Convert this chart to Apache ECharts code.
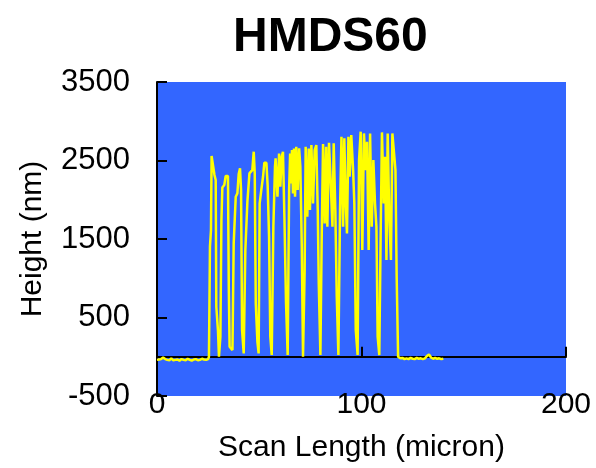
<!DOCTYPE html>
<html>
<head>
<meta charset="utf-8">
<script src="https://cdn.jsdelivr.net/npm/echarts@6/dist/echarts.min.js"></script>
<style>
html,body{margin:0;padding:0;background:#fff;}
#c{width:596px;height:468px;}
</style>
</head>
<body>
<div id="c"></div>
<script>
const chartTitle = 'HMDS60';
const xAxisName = 'Scan Length (micron)';
const yAxisName = 'Height (nm)';
const xTicks = [0, 100, 200];
const yTicks = [-500, 500, 1500, 2500, 3500];

const scanX = [
  0,1,2,3,4,5,6,7,8,9,10,11,12,13,14,15,16,17,18,19,20,21,22,23,24,25,
  25.4,25.9,26.4,26.7,27.6,28.1,28.7,29.0,29.8,30.3,
  31.0,31.5,31.96,32.9,33.6,34.7,35.1,35.5,36.9,
  37.5,38.5,39.3,39.95,40.6,41.1,41.6,42.4,
  43.2,44.2,45.2,46.6,47.3,47.8,48.3,49.1,49.7,
  50.2,51.0,51.85,52.5,53.5,54.1,54.8,55.4,56.1,
  56.9,57.7,58.0,58.9,59.7,60.3,60.98,61.6,62.3,63.1,63.9,
  64.6,65.1,65.5,66.0,66.5,67.0,67.5,68.1,68.8,69.5,70.1,70.8,71.4,
  72.2,72.7,73.5,74.2,74.8,75.5,76.3,77.1,77.9,78.6,79.1,79.9,
  80.5,81.2,82.0,82.7,83.3,84.1,84.9,85.8,86.4,87.2,87.9,88.7,
  89.5,90.2,91.0,91.6,92.3,92.9,93.6,94.2,95.0,95.9,96.5,97.2,98.1,
  98.8,99.6,100.4,101.2,102.1,102.7,103.5,104.2,105.0,105.8,106.6,107.3,107.9,108.7,
  109.4,110.0,110.9,111.5,112.2,112.8,113.6,114.4,115.1,115.9,116.6,117.2,117.9,
  118.5,119,120,121,122,123,124,125,126,127,128,129,130,131,132,133,134,135,136,137,138,139,140
];
const heightY = [
  -40,-35,-30,-10,-30,-40,-45,-20,-45,-40,-35,-50,-30,-40,-45,-25,-40,-50,-35,-30,-45,-40,-25,-35,-40,-30,
  0,1402,1614,2557,2540,2315,2251,637,340,0,
  255,1741,2157,2187,2302,2302,892,128,85,
  1444,2039,2081,2327,2400,2124,340,43,
  1359,1975,2336,2378,2612,2336,680,191,43,
  1954,2124,2293,2472,2472,2187,1529,255,22,
  1656,2421,2527,2039,2590,2166,2548,2612,1784,680,22,
  2124,2590,2208,2633,2081,2654,2039,2675,2124,2654,2421,1402,0,
  1104,2675,1784,2654,1869,2697,1954,2633,2697,1869,935,22,
  1444,2709,1699,2675,1656,2726,2251,1656,2718,1869,765,22,
  1869,2803,1656,2782,1954,1571,2803,2293,2824,2378,1954,340,22,
  2506,2867,1359,2845,2378,2739,1359,2845,1656,2506,1954,1656,255,22,
  1614,2858,1954,2548,1232,2845,1741,1232,2845,2845,2378,1019,0,
  -10,-20,-15,-30,-20,-30,-15,-25,-30,-15,-25,-20,-30,-20,10,30,-10,-25,-15,-25,-20,-30,-25
];

const points = scanX.map((x, i) => [x, heightY[i]]);
const FONT = "'Liberation Sans', Arial, Helvetica, sans-serif";
const plain = v => String(v);

const chart = echarts.init(document.getElementById('c'), null, {renderer: 'canvas'});
chart.setOption({
  animation: false,
  backgroundColor: '#ffffff',
  title: {
    text: chartTitle,
    left: 228,
    top: 9,
    textStyle: {fontFamily: FONT, fontSize: 48, fontWeight: 'bold', color: '#000'}
  },
  grid: {
    left: 157, right: 30, top: 82, bottom: 72,
    show: true, backgroundColor: '#3366ff', borderWidth: 0
  },
  xAxis: [
    {
      type: 'value', min: xTicks[0], max: xTicks[xTicks.length - 1], interval: 100,
      position: 'bottom',
      axisLine: {show: true, onZero: true, lineStyle: {color: '#000', width: 2}},
      axisTick: {show: true, inside: true, length: 10, lineStyle: {color: '#000', width: 2}},
      axisLabel: {show: false},
      splitLine: {show: false}
    },
    {
      type: 'value', min: xTicks[0], max: xTicks[xTicks.length - 1], interval: 100,
      position: 'bottom',
      axisLine: {show: false, onZero: false},
      axisTick: {show: false},
      axisLabel: {show: true, fontFamily: FONT, fontSize: 30, color: '#000', margin: -6, formatter: plain},
      splitLine: {show: false},
      name: xAxisName, nameLocation: 'middle', nameGap: 37,
      nameTextStyle: {fontFamily: FONT, fontSize: 30, color: '#000'}
    }
  ],
  yAxis: {
    type: 'value', min: yTicks[0], max: yTicks[yTicks.length - 1], interval: 1000,
    axisLine: {show: true, onZero: false, lineStyle: {color: '#000', width: 2}},
    axisTick: {show: true, inside: true, length: 10, lineStyle: {color: '#000', width: 2}},
    axisLabel: {fontFamily: FONT, fontSize: 31, color: '#000', margin: 27, formatter: plain},
    splitLine: {show: false},
    name: yAxisName, nameLocation: 'middle', nameGap: 109, nameRotate: 90,
    nameTextStyle: {fontFamily: FONT, fontSize: 30, color: '#000'}
  },
  series: [{
    type: 'line',
    xAxisIndex: 0,
    data: points,
    showSymbol: false,
    symbol: 'none',
    lineStyle: {color: '#ffff00', width: 2.5},
    z: 3
  }]
});
</script>
</body>
</html>
